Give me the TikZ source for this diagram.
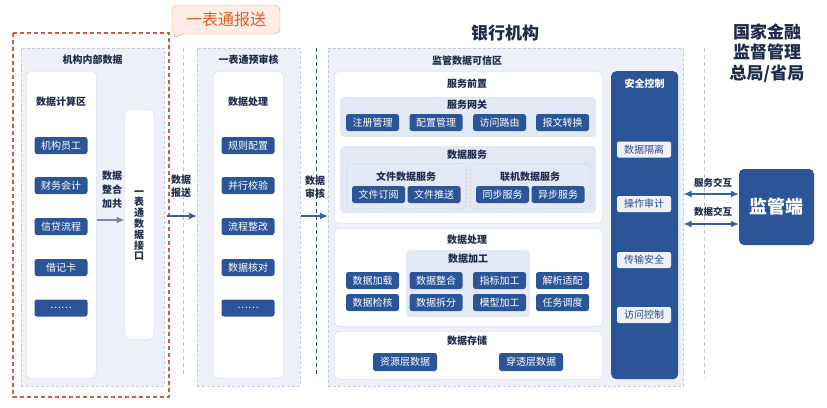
\documentclass[tikz,border=0pt]{standalone}
\usepackage{fontspec}
\setmainfont{Noto Sans CJK SC}
\usetikzlibrary{arrows.meta}
\definecolor{pbg}{HTML}{EEF0F8}
\definecolor{pborder}{HTML}{C5CBDD}
\definecolor{wborder}{HTML}{DDE2EE}
\definecolor{subbg}{HTML}{E3E9F4}
\definecolor{dborder}{HTML}{C3CADC}
\definecolor{bblue}{HTML}{2B5597}
\definecolor{sbg}{HTML}{EEF1F8}
\definecolor{sblue}{HTML}{2B4A85}
\definecolor{tdark}{HTML}{1E2B4A}
\definecolor{orangeline}{HTML}{D35C38}
\definecolor{obg}{HTML}{FDEDE4}
\definecolor{oborder}{HTML}{EBA584}
\definecolor{otext}{HTML}{DD5F2F}
\definecolor{arrgray}{HTML}{7A86A8}
\definecolor{darrow}{HTML}{3A5FA3}
\definecolor{sepline}{HTML}{BCC3DA}
\tikzset{
  panel/.style={draw=pborder, fill=pbg, dashed, dash pattern=on 3pt off 2pt, line width=0.6pt, anchor=north west, inner sep=0pt},
  wbox/.style={draw=wborder, fill=white, rounded corners=5pt, line width=0.6pt, anchor=north west, inner sep=0pt},
  subbox/.style={fill=subbg, rounded corners=4pt, anchor=north west, inner sep=0pt},
  dbox/.style={draw=dborder, dashed, dash pattern=on 2pt off 2pt, fill=subbg, rounded corners=4pt, anchor=north west, inner sep=0pt, line width=0.5pt},
  btn/.style={fill=bblue, text=white, rounded corners=2.5pt, minimum width=53pt, minimum height=17pt, inner sep=0pt, font=\fontsize{10}{12}\selectfont},
  sbtn/.style={fill=sbg, text=sblue, rounded corners=2pt, minimum width=54pt, minimum height=16pt, inner sep=0pt, font=\fontsize{10}{12}\selectfont},
  lbl/.style={text=tdark, font=\bfseries\fontsize{10}{12}\selectfont, inner sep=0pt, align=center},
  big/.style={text=tdark, font=\bfseries\fontsize{17}{20.5}\selectfont, inner sep=0pt, align=center},
  arr/.style={-{Latex[length=8pt,width=7pt]}, line width=1.4pt},
  dbl/.style={{Latex[length=8pt,width=7pt]}-{Latex[length=8pt,width=7pt]}, line width=1.2pt, color=darrow},
}
\begin{document}
\begin{tikzpicture}[x=1pt,y=-1pt]
\useasboundingbox (0,0) rectangle (827,407);
% orange dashed region (drawn first)
\draw[color=orangeline, dash pattern=on 4pt off 3pt, line width=1.05pt] (13,33) rectangle (169,397);
% separators
\draw[color=sepline, dash pattern=on 4pt off 3pt, line width=0.7pt] (183,48) -- (183,377);
\draw[color=sblue, dash pattern=on 4pt off 3pt, line width=0.9pt] (316,48) -- (316,377);
\draw[color=sepline, dash pattern=on 4pt off 3pt, line width=0.7pt] (704,48) -- (704,378);
% titles
\node[big] (tbank) at (505,33) {银行机构};
\node[big] (tgov) at (767,53) {国家金融\\监督管理\\总局/省局};
% callout
\node[fill=obg, draw=oborder, rounded corners=6pt, minimum width=108pt, minimum height=29pt, inner sep=0pt, text=otext, font=\fontsize{16}{18}\selectfont] (callout) at (226,19.5) {一表通报送};
\fill[obg] (174,33.4) -- (175,37) -- (184,33.4) -- cycle;
\draw[color=oborder, line width=0.5pt] (174,34) -- (175,37) -- (184,34);
% panel 1
\node[panel, minimum width=143pt, minimum height=338pt] (p1) at (21,48) {};
\node[lbl] (p1t) at (92.5,60) {机构内部数据};
\node[wbox, minimum width=70pt, minimum height=307pt] (calc) at (26,71) {};
\node[lbl] (calct) at (61,102) {数据计算区};
\node[btn] (c1) at (61,145.5) {机构员工};
\node[btn] (c2) at (61,185.5) {财务会计};
\node[btn] (c3) at (61,226.5) {信贷流程};
\node[btn] (c4) at (61,267.5) {借记卡};
\node[btn] (c5) at (61,308) {……};
\node[wbox, minimum width=29pt, minimum height=230pt] (iface) at (124.5,109) {};
\node[lbl, font=\bfseries\fontsize{10}{10.8}\selectfont] (ifacet) at (139,225.5) {一\\表\\通\\数\\据\\接\\口};
\node[lbl, font=\bfseries\fontsize{10}{14}\selectfont] (zh) at (112,189.5) {数据\\整合\\加共};
\coordinate (ya) at (0,220);
\draw[arr, color=arrgray] (calc.east |- ya) -- (iface.west |- ya);
\node[lbl, font=\bfseries\fontsize{10}{13}\selectfont] (bs) at (181,186.5) {数据\\报送};
% panel 2
\node[panel, minimum width=103pt, minimum height=338pt] (p2) at (197,48) {};
\node[lbl] (p2t) at (248.5,60) {一表通预审核};
\node[wbox, minimum width=70pt, minimum height=307pt] (proc) at (213,71) {};
\node[lbl] (proct) at (248,102) {数据处理};
\node[btn] (d1) at (248,145.5) {规则配置};
\node[btn] (d2) at (248,185.5) {并行校验};
\node[btn] (d3) at (248,226.5) {流程整改};
\node[btn] (d4) at (248,267.5) {数据核对};
\node[btn] (d5) at (248,308) {……};
\coordinate (yb) at (0,216);
\coordinate (bsStart) at (167,216);
\draw[arr, color=darrow] (bsStart) -- (p2.west |- yb);
\node[lbl, font=\bfseries\fontsize{10}{13}\selectfont] (sh) at (315,187.5) {数据\\审核};
% panel 3
\node[panel, minimum width=355pt, minimum height=338pt] (p3) at (328,48) {};
\draw[arr, color=darrow] (p2.east |- yb) -- (p3.west |- yb);
\node[lbl] (p3t) at (467,61) {监管数据可信区};
% service front
\node[wbox, minimum width=268pt, minimum height=152pt] (front) at (334,71) {};
\node[lbl] (frontt) at (467,84) {服务前置};
\node[subbox, minimum width=256pt, minimum height=40pt] (gw) at (340,97) {};
\node[lbl] (gwt) at (467,105) {服务网关};
\node[btn] (g1) at (372.5,122.5) {注册管理};
\node[btn] (g2) at (436,122.5) {配置管理};
\node[btn] (g3) at (499.5,122.5) {访问路由};
\node[btn] (g4) at (562.5,122.5) {报文转换};
\node[subbox, minimum width=256pt, minimum height=67pt] (ds) at (340,146) {};
\node[lbl] (dst) at (467,155) {数据服务};
\node[dbox, minimum width=120pt, minimum height=45pt] (fds) at (346,163) {};
\node[lbl] (fdst) at (406,177) {文件数据服务};
\node[dbox, minimum width=120pt, minimum height=45pt] (ods) at (470,163) {};
\node[lbl] (odst) at (530,177) {联机数据服务};
\node[btn] (s1) at (378.5,194.5) {文件订阅};
\node[btn] (s2) at (434,194.5) {文件推送};
\node[btn] (s3) at (502.5,194.5) {同步服务};
\node[btn] (s4) at (558,194.5) {异步服务};
% data processing
\node[wbox, minimum width=268pt, minimum height=98pt] (dp) at (334,228) {};
\node[lbl] (dpt) at (467,240) {数据处理};
\node[subbox, minimum width=124pt, minimum height=67pt] (dj) at (406,250) {};
\node[lbl] (djt) at (468,259) {数据加工};
\node[btn] (e1) at (372.5,280.5) {数据加载};
\node[btn] (e2) at (436,280.5) {数据整合};
\node[btn] (e3) at (499.5,280.5) {指标加工};
\node[btn] (e4) at (562.5,280.5) {解析适配};
\node[btn] (e5) at (372.5,302.5) {数据检核};
\node[btn] (e6) at (436,302.5) {数据拆分};
\node[btn] (e7) at (499.5,302.5) {模型加工};
\node[btn] (e8) at (562.5,302.5) {任务调度};
% storage
\node[wbox, minimum width=268pt, minimum height=48pt] (st) at (334,331) {};
\node[lbl] (stt) at (467,341) {数据存储};
\node[btn, minimum width=64pt, minimum height=18pt] (t1) at (405,362) {资源层数据};
\node[btn, minimum width=64pt, minimum height=18pt] (t2) at (531,362) {穿透层数据};
% security
\node[fill=bblue, rounded corners=5pt, minimum width=67pt, minimum height=308pt, anchor=north west, inner sep=0pt] (sec) at (611,71) {};
\node[lbl, text=white] (sect) at (644.5,84) {安全控制};
\node[sbtn] (k1) at (644,149.5) {数据隔离};
\node[sbtn] (k2) at (644,204) {操作审计};
\node[sbtn] (k3) at (644,260) {传输安全};
\node[sbtn] (k4) at (644,315) {访问控制};
% regulator
\node[fill=bblue, rounded corners=5pt, minimum width=75pt, minimum height=76pt, inner sep=0pt, text=white, font=\bfseries\fontsize{18}{20}\selectfont] (jgd) at (776.5,207) {监管端};
\coordinate (yc) at (0,194);
\coordinate (yd) at (0,224);
\draw[dbl] (p3.east |- yc) -- (jgd.west |- yc);
\draw[dbl] (p3.east |- yd) -- (jgd.west |- yd);
\node[lbl, font=\bfseries\fontsize{9.5}{11}\selectfont] (fw) at (713,183) {服务交互};
\node[lbl, font=\bfseries\fontsize{9.5}{11}\selectfont] (sj) at (713,212) {数据交互};
\end{tikzpicture}
\end{document}
